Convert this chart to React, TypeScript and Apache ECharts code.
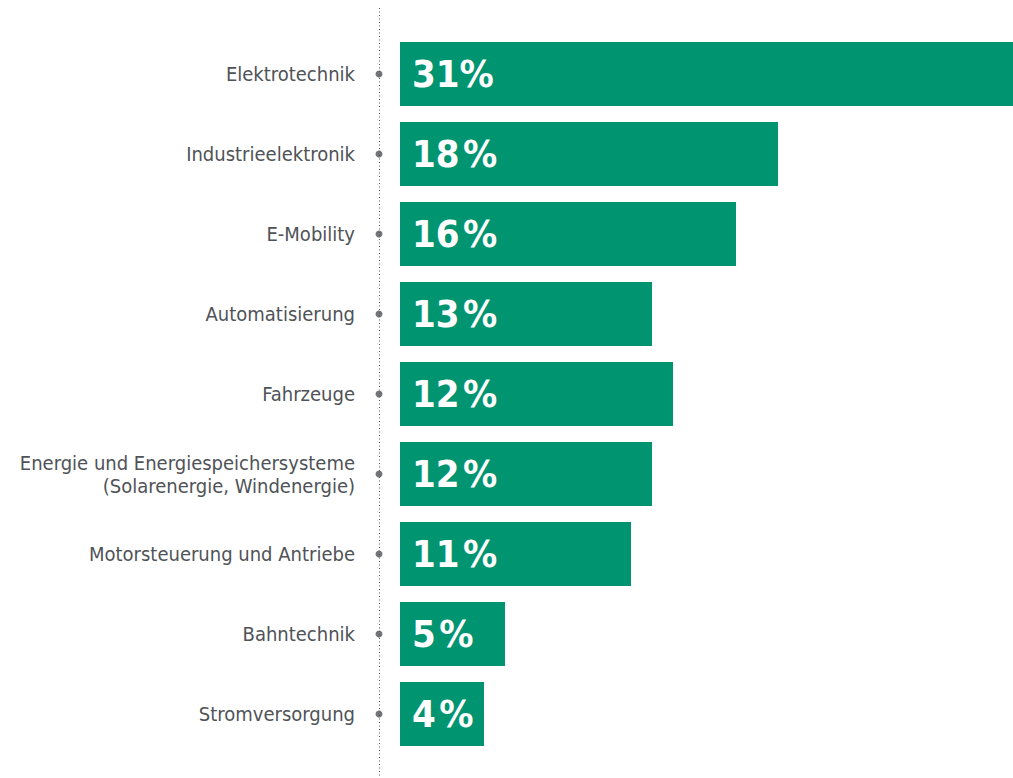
import React, { useEffect, useRef } from "react";
import * as echarts from "echarts";

const categories = [
  "Elektrotechnik",
  "Industrieelektronik",
  "E-Mobility",
  "Automatisierung",
  "Fahrzeuge",
  "Energie und Energiespeichersysteme\n(Solarenergie, Windenergie)",
  "Motorsteuerung und Antriebe",
  "Bahntechnik",
  "Stromversorgung",
];
// bar lengths as drawn in the picture
const barValues = [31, 18, 16, 12, 13, 12, 11, 5, 4];
// printed labels
const labelTexts = ["31%", "18\u200A%", "16\u200A%", "13\u200A%", "12\u200A%", "12\u200A%", "11\u200A%", "5\u200A%", "4\u200A%"];

export default function App() {
  const ref = useRef<HTMLDivElement>(null);
  useEffect(() => {
    document.body.style.margin = "0";
    const chart = echarts.init(ref.current!, null, { renderer: "svg" });
    chart.setOption({
      animation: false,
      backgroundColor: "#ffffff",
      grid: { left: 379, right: 0, top: 34, bottom: 24, containLabel: false },
      xAxis: {
        type: "value",
        min: -1,
        max: 29.19,
        show: false,
      },
      yAxis: {
        type: "category",
        inverse: true,
        data: categories,
        axisLine: { show: false },
        axisTick: { show: false },
        splitLine: { show: false },
        axisLabel: {
          margin: 24,
          color: "#4f5357",
          fontSize: 20,
          lineHeight: 23,
          fontFamily: "'DejaVu Sans Condensed', 'Liberation Sans Narrow', sans-serif",
          align: "right",
        },
      },
      graphic: [
        {
          type: "line",
          shape: { x1: 379.5, y1: 8, x2: 379.5, y2: 778 },
          style: { stroke: "#555", lineWidth: 1, lineDash: [1, 2.5] },
          z: 0,
        },
      ],
      series: [
        {
          type: "bar",
          data: barValues,
          barCategoryGap: "20%",
          itemStyle: { color: "#009470" },
          label: {
            show: true,
            position: "insideLeft",
            distance: 12,
            color: "#ffffff",
            fontSize: 38,
            fontWeight: "bold",
            fontFamily: "'DejaVu Sans Condensed', 'Liberation Sans Narrow', sans-serif",
            formatter: (p: any) => labelTexts[p.dataIndex],
          },
        },
        {
          type: "scatter",
          data: categories.map((c) => [-1, c]),
          symbol: "circle",
          symbolSize: 7,
          clip: false,
          itemStyle: { color: "#4f5357" },
          z: 5,
        },
      ],
    });
    return () => chart.dispose();
  }, []);
  return <div ref={ref} style={{ width: 1013, height: 778 }} />;
}
